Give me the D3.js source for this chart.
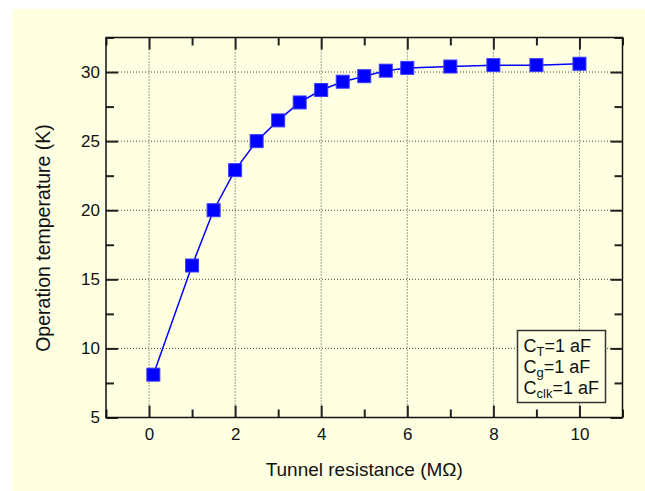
<!DOCTYPE html>
<html>
<head>
<meta charset="utf-8">
<script src="https://cdn.jsdelivr.net/npm/d3@7"></script>
<style>
  body { margin: 0; background: #fff; }
  svg text { font-family: "Liberation Sans", Arial, sans-serif; fill: #111; }
</style>
</head>
<body>
<svg id="canvas"></svg>
<script>
let resistance = [0.1, 1, 1.5, 2, 2.5, 3, 3.5, 4, 4.5, 5, 5.5, 6, 7, 8, 9, 10]
let temperature = [8.1, 16.0, 20.0, 22.9, 25.0, 26.5, 27.8, 28.7, 29.3, 29.7, 30.1, 30.3, 30.4, 30.5, 30.5, 30.6]

let xMajor = [0, 2, 4, 6, 8, 10]
let xMinor = [-1, 1, 3, 5, 7, 9, 11]
let yMajor = [5, 10, 15, 20, 25, 30]
let yMinor = [7.5, 12.5, 17.5, 22.5, 27.5, 32.5]

let legendLines = [['C', 'T', '=1 aF'], ['C', 'g', '=1 aF'], ['C', 'clk', '=1 aF']]

let width = 645
let height = 491
let marginLeft = 106
let marginTop = 37.5
let plotW = 516.5
let plotH = 380

let canvas = d3.select('#canvas')
canvas.attr('width', width)
      .attr('height', height)

canvas.append('rect')
  .attr('x', 12).attr('y', 9)
  .attr('width', width - 12).attr('height', height - 9)
  .attr('fill', '#ffffe2')

let xScale = d3.scaleLinear().domain([-1, 11]).range([0, plotW])
let yScale = d3.scaleLinear().domain([5, 32.5]).range([plotH, 0])

let g = canvas.append('g').attr('transform', `translate(${marginLeft},${marginTop})`)

/*grid*/
let grid = g.append('g')
grid.selectAll('.gx')
  .data(xMajor)
  .enter()
  .append('line')
  .attr('x1', (d) => xScale(d)).attr('x2', (d) => xScale(d))
  .attr('y1', 0).attr('y2', plotH)
grid.selectAll('.gy')
  .data(yMajor.slice(1))
  .enter()
  .append('line')
  .attr('y1', (d) => yScale(d)).attr('y2', (d) => yScale(d))
  .attr('x1', 0).attr('x2', plotW)
grid.selectAll('line')
  .attr('stroke', '#444')
  .attr('stroke-width', 1)
  .attr('stroke-dasharray', '1,2')

/*ticks, inward on all four sides*/
function ticks(axis, values, size, tf) {
  let a = g.append('g')
    .attr('transform', tf)
    .call(axis.tickValues(values).tickSize(size).tickFormat(''))
  a.select('.domain').remove()
  a.selectAll('line').attr('stroke', '#222').attr('stroke-width', 2)
}
ticks(d3.axisBottom(xScale), xMajor, -12, `translate(0,${plotH})`)
ticks(d3.axisBottom(xScale), xMinor, -8, `translate(0,${plotH})`)
ticks(d3.axisTop(xScale), xMajor, -12, 'translate(0,0)')
ticks(d3.axisTop(xScale), xMinor, -8, 'translate(0,0)')
ticks(d3.axisLeft(yScale), yMajor, -12, 'translate(0,0)')
ticks(d3.axisLeft(yScale), yMinor, -8, 'translate(0,0)')
ticks(d3.axisRight(yScale), yMajor, -12, `translate(${plotW},0)`)
ticks(d3.axisRight(yScale), yMinor, -8, `translate(${plotW},0)`)

/*tick labels*/
let xl = g.append('g')
  .attr('transform', `translate(0,${plotH})`)
  .call(d3.axisBottom(xScale).tickValues(xMajor).tickSize(0).tickPadding(10))
xl.select('.domain').remove()
xl.selectAll('text').attr('font-size', 17).attr('font-family', 'Liberation Sans, Arial, sans-serif')

let yl = g.append('g')
  .call(d3.axisLeft(yScale).tickValues(yMajor).tickSize(0).tickPadding(6))
yl.select('.domain').remove()
yl.selectAll('text').attr('font-size', 17).attr('font-family', 'Liberation Sans, Arial, sans-serif')

/*frame*/
g.append('rect')
  .attr('width', plotW).attr('height', plotH)
  .attr('fill', 'none')
  .attr('stroke', '#111')
  .attr('stroke-width', 1.5)

/*series*/
let pts = resistance.map((r, i) => [r, temperature[i]])
g.append('path')
  .datum(pts)
  .attr('fill', 'none')
  .attr('stroke', '#0000ff')
  .attr('stroke-width', 1.5)
  .attr('d', d3.line().x((d) => xScale(d[0])).y((d) => yScale(d[1])))

g.selectAll('.pt')
  .data(pts)
  .enter()
  .append('rect')
  .attr('x', (d) => xScale(d[0]) - 6.5)
  .attr('y', (d) => yScale(d[1]) - 6.5)
  .attr('width', 13).attr('height', 13)
  .attr('fill', '#0000ff')
  .attr('stroke', '#3b3bff')
  .attr('stroke-width', 1)

/*legend*/
canvas.append('rect')
  .attr('x', 517.5).attr('y', 330.5)
  .attr('width', 88).attr('height', 72)
  .attr('fill', '#ffffe2')
  .attr('stroke', '#333')
  .attr('stroke-width', 1.5)

canvas.selectAll('.leg')
  .data(legendLines)
  .enter()
  .append('text')
  .attr('x', 523.5)
  .attr('y', (d, i) => 352 + i * 21)
  .attr('font-size', 18)
  .each(function (d) {
    let t = d3.select(this)
    t.append('tspan').text(d[0])
    t.append('tspan').attr('font-size', 13).attr('dy', 4).text(d[1])
    t.append('tspan').attr('dy', -4).text(d[2])
  })

/*axis titles*/
canvas.append('text')
  .attr('x', marginLeft + plotW / 2)
  .attr('y', 476)
  .attr('text-anchor', 'middle')
  .attr('font-size', 19)
  .text('Tunnel resistance (MΩ)')

canvas.append('text')
  .attr('transform', 'translate(50,238) rotate(-90)')
  .attr('text-anchor', 'middle')
  .attr('font-size', 19.5)
  .text('Operation temperature (K)')
</script>
</body>
</html>
